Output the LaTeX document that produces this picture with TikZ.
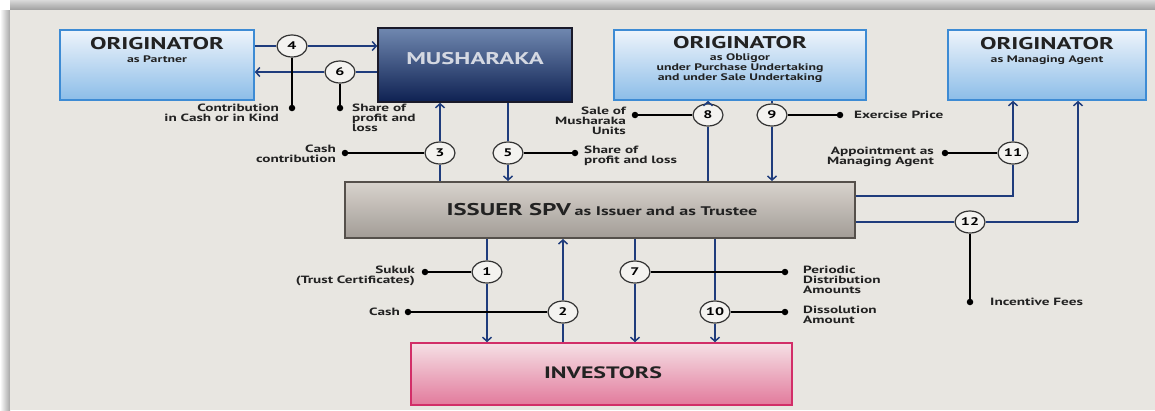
\documentclass[tikz,border=0pt]{standalone}
\usepackage{fontspec}
\setmainfont{PT Sans}[FakeStretch=1.45]
\usetikzlibrary{shapes.geometric,arrows.meta}
\definecolor{bgc}{HTML}{E8E6E1}
\definecolor{flowc}{HTML}{1F3C7C}
\definecolor{numc}{HTML}{333333}
\definecolor{numfill}{HTML}{F4F3F0}
\definecolor{lblc}{HTML}{222222}
\definecolor{origc}{HTML}{3D8BD4}
\definecolor{origtop}{HTML}{EEF4FB}
\definecolor{origbot}{HTML}{8CBDE8}
\definecolor{mushtop}{HTML}{7088B0}
\definecolor{mushbot}{HTML}{0E2152}
\definecolor{mushc}{HTML}{1A1A2A}
\definecolor{musht}{HTML}{D4D8E2}
\definecolor{spvtop}{HTML}{D8D3CD}
\definecolor{spvbot}{HTML}{A29C96}
\definecolor{spvc}{HTML}{55504B}
\definecolor{invtop}{HTML}{F5E0E5}
\definecolor{invbot}{HTML}{E27A9C}
\definecolor{invc}{HTML}{D22E68}
\tikzset{
 flow/.style={draw=flowc, line width=1.5pt},
 arr/.style={flow, -{Straight Barb[length=4pt,width=9pt]}},
 stem/.style={draw=black, line width=1.8pt},
 num/.style={ellipse, draw=numc, line width=1.2pt, fill=numfill, minimum width=30pt, minimum height=22pt, inner sep=0pt, font=\fontsize{11}{11}\selectfont\bfseries},
 dot/.style={circle, fill=black, minimum size=6.5pt, inner sep=0pt},
 lbl/.style={inner sep=0pt, font=\fontsize{10.5}{10}\selectfont\bfseries, text=lblc},
 orig/.style={draw=origc, line width=1.6pt, top color=origtop, bottom color=origbot, inner sep=0pt},
 ttl/.style={inner sep=0pt, align=center, font=\fontsize{9.5}{10}\selectfont\bfseries, text=lblc},
}
\begin{document}
\begin{tikzpicture}[x=1pt,y=-1pt]
\useasboundingbox (0,0) rectangle (1155,410);
% background and panel
\fill[white] (0,0) rectangle (1155,410);
\shade[left color=white, right color=black!35] (0,10) rectangle (10,410);
\shade[top color=black!15, bottom color=black!38] (10,0) rectangle (1155,10);
\fill[bgc] (10,10) rectangle (1155,410);

% boxes
\node[orig, minimum width=194pt, minimum height=70pt] (partner) at (157,65) {};
\node[ttl, anchor=north] (partnert) at (157,37) {{\fontsize{17}{18}\selectfont ORIGINATOR}\\[3pt] as Partner};
\node[draw=mushc, line width=1.6pt, top color=mushtop, bottom color=mushbot, minimum width=194pt, minimum height=74pt, inner sep=0pt] (mush) at (475,65) {};
\node[inner sep=0pt, text=musht, font=\fontsize{17}{17}\selectfont\bfseries] (mushtxt) at (475,59) {MUSHARAKA};
\node[orig, minimum width=252pt, minimum height=70pt] (oblig) at (740,65) {};
\node[ttl, anchor=north] (obligt) at (740,36) {{\fontsize{17}{18}\selectfont ORIGINATOR}\\[2pt] as Obligor\\ under Purchase Undertaking\\ and under Sale Undertaking};
\node[orig, minimum width=198pt, minimum height=70pt] (mgr) at (1047,65) {};
\node[ttl, anchor=north] (mgrt) at (1047,37) {{\fontsize{17}{18}\selectfont ORIGINATOR}\\[3pt] as Managing Agent};
\node[draw=spvc, line width=2pt, top color=spvtop, bottom color=spvbot, minimum width=510pt, minimum height=56pt, inner sep=0pt] (spv) at (600,210) {};
\node[inner sep=0pt, text=lblc, font=\bfseries] (spvt) at (602,210) {{\fontsize{17}{18}\selectfont ISSUER SPV} {\fontsize{12.5}{13}\selectfont as Issuer and as Trustee}};
\node[draw=invc, line width=1.6pt, top color=invtop, bottom color=invbot, minimum width=381pt, minimum height=62pt, inner sep=0pt] (inv) at (601.5,374) {};
\node[inner sep=0pt, text=lblc, font=\fontsize{16.5}{17}\selectfont\bfseries] (invt) at (603,373) {INVESTORS};

% numbered ellipses
\node[num] (c4) at (292,46) {4};
\node[num] (c6) at (340,72) {6};
\node[num] (c3) at (440,153) {3};
\node[num] (c5) at (508,153) {5};
\node[num] (c8) at (708,115) {8};
\node[num] (c9) at (772,115) {9};
\node[num] (c11) at (1013,153) {11};
\node[num] (c12) at (970,222) {12};
\node[num] (c1) at (487,272) {1};
\node[num] (c2) at (563,312) {2};
\node[num] (c7) at (635,272) {7};
\node[num] (c10) at (715,312) {10};
\coordinate (k11) at (1013,196);
\coordinate (k12) at (1078,222);

% flows
\draw[flow] (partner.east |- c4) -- (c4.west);
\draw[arr] (c4.east) -- (c4 -| mush.west);
\draw[flow] (mush.west |- c6) -- (c6.east);
\draw[arr] (c6.west) -- (c6 -| partner.east);
\draw[flow] (c3 |- spv.north) -- (c3.south);
\draw[arr] (c3.north) -- (c3 |- mush.south);
\draw[flow] (c5 |- mush.south) -- (c5.north);
\draw[arr] (c5.south) -- (c5 |- spv.north);
\draw[flow] (c8 |- spv.north) -- (c8.south);
\draw[arr] (c8.north) -- (c8 |- oblig.south);
\draw[flow] (c9 |- oblig.south) -- (c9.north);
\draw[arr] (c9.south) -- (c9 |- spv.north);
\draw[flow] (spv.east |- k11) -- (k11) -- (c11.south);
\draw[arr] (c11.north) -- (c11 |- mgr.south);
\draw[flow] (spv.east |- c12) -- (c12.west);
\draw[flow] (c12.east) -- (k12);
\draw[arr] (k12) -- (k12 |- mgr.south);
\draw[flow] (c1 |- spv.south) -- (c1.north);
\draw[arr] (c1.south) -- (c1 |- inv.north);
\draw[flow] (c2 |- inv.north) -- (c2.south);
\draw[arr] (c2.north) -- (c2 |- spv.south);
\draw[flow] (c7 |- spv.south) -- (c7.north);
\draw[arr] (c7.south) -- (c7 |- inv.north);
\draw[flow] (c10 |- spv.south) -- (c10.north);
\draw[arr] (c10.south) -- (c10 |- inv.north);

% dots and stems
\node[dot] (d4) at (292,108) {};
\node[dot] (d6) at (340,108) {};
\node[dot] (d3) at (345,153) {};
\node[dot] (d5) at (575,153) {};
\node[dot] (d8) at (635,115) {};
\node[dot] (d9) at (840,115) {};
\node[dot] (d11) at (945,153) {};
\node[dot] (d12) at (970,302) {};
\node[dot] (d1) at (425,272) {};
\node[dot] (d2) at (408,312) {};
\node[dot] (d7) at (785,272) {};
\node[dot] (d10) at (785,312) {};
\draw[stem] (c4.south) -- (d4);
\draw[stem] (c6.south) -- (d6);
\draw[stem] (d3) -- (c3.west);
\draw[stem] (c5.east) -- (d5);
\draw[stem] (d8) -- (c8.west);
\draw[stem] (c9.east) -- (d9);
\draw[stem] (d11) -- (c11.west);
\draw[stem] (c12.south) -- (d12);
\draw[stem] (d1) -- (c1.west);
\draw[stem] (d2) -- (c2.west);
\draw[stem] (c7.east) -- (d7);
\draw[stem] (c10.east) -- (d10);

% labels
\node[lbl, anchor=north east, align=right] (l4) at (279,104) {Contribution\\in Cash or in Kind};
\node[lbl, anchor=north west, align=left] (l6) at (352,104) {Share of\\profit and\\loss};
\node[lbl, anchor=east, align=right] (l3) at (336,154) {Cash\\contribution};
\node[lbl, anchor=west, align=left] (l5) at (584,156) {Share of\\profit and loss};
\node[lbl, anchor=north east, align=right] (l8) at (626,107) {Sale of\\Musharaka\\Units};
\node[lbl, anchor=west] (l9) at (854,115) {Exercise Price};
\node[lbl, anchor=east, align=right] (l11) at (934,157) {Appointment as\\Managing Agent};
\node[lbl, anchor=west] (l12) at (990,302) {Incentive Fees};
\node[lbl, anchor=east, align=right] (l1) at (415,276) {Sukuk\\(Trust Certificates)};
\node[lbl, anchor=east] (l2) at (400,312) {Cash};
\node[lbl, anchor=north west, align=left] (l7) at (803,266) {Periodic\\Distribution\\Amounts};
\node[lbl, anchor=north west, align=left] (l10) at (803,306) {Dissolution\\Amount};
\end{tikzpicture}
\end{document}
